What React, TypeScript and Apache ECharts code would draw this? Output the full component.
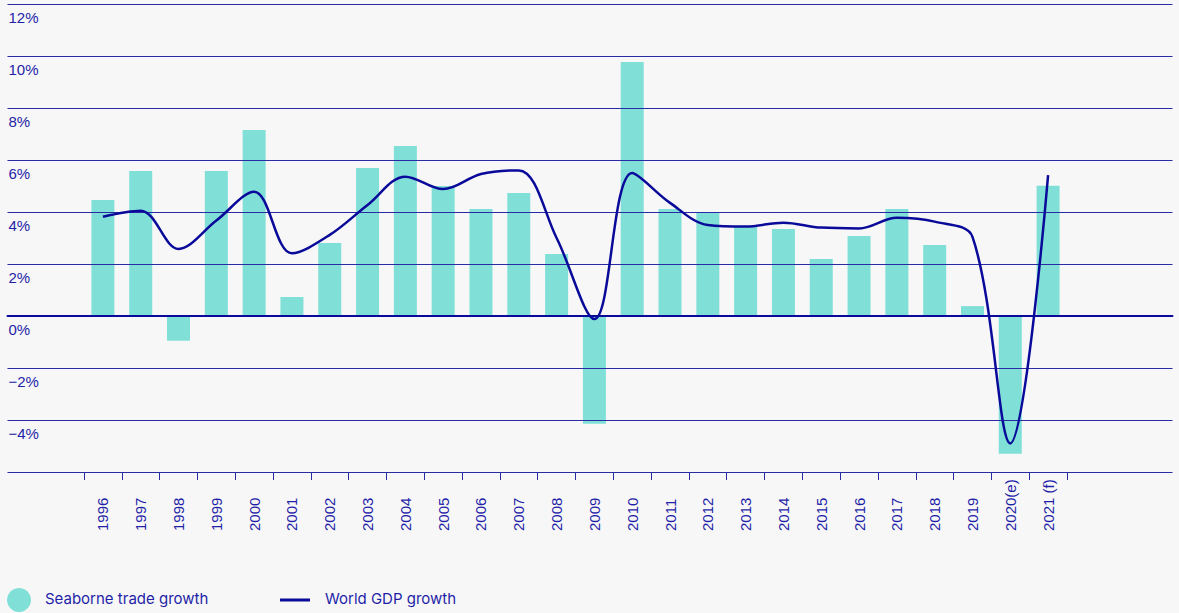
import React, { useEffect, useRef } from "react";
import * as echarts from "echarts";

const years = [
  "1996", "1997", "1998", "1999", "2000", "2001", "2002", "2003", "2004",
  "2005", "2006", "2007", "2008", "2009", "2010", "2011", "2012", "2013",
  "2014", "2015", "2016", "2017", "2018", "2019", "2020(e)", "2021 (f)",
];

const seaborneTradeGrowth = [
  4.46, 5.58, -0.95, 5.58, 7.15, 0.73, 2.81, 5.69, 6.54,
  5.0, 4.12, 4.73, 2.38, -4.14, 9.77, 4.12, 3.96, 3.44,
  3.35, 2.19, 3.08, 4.12, 2.73, 0.38, -5.3, 5.01,
];

const worldGdpGrowth = [
  3.82, 4.05, 2.58, 3.67, 4.78, 2.41, 3.12, 4.27, 5.36,
  4.88, 5.46, 5.6, 3.0, -0.12, 5.5, 4.35, 3.5, 3.44,
  3.59, 3.4, 3.37, 3.78, 3.63, 3.04, -4.9, 5.42,
];

const yTicks = [-6, -4, -2, 0, 2, 4, 6, 8, 10, 12];

const NAVY = "#0a0a9a";
const TEXT = "#1f1fa8";
const GRID = "#2a2aa4";
const BAR = "#80e0d8";
const BG = "#f7f7f7";

export default function App() {
  const ref = useRef<HTMLDivElement>(null);

  useEffect(() => {
    document.body.style.margin = "0";
    document.body.style.background = BG;
    if (!ref.current) return;
    const chart = echarts.init(ref.current, undefined, { renderer: "svg" });
    const yMin = yTicks[0];
    const yMax = yTicks[yTicks.length - 1];
    chart.setOption({
      animation: false,
      backgroundColor: BG,
      grid: [
        { left: 7.5, right: 6.5, top: 4, height: 468 },
        { left: 84, width: 983, top: 4, height: 468 },
      ],
      xAxis: [
        {
          gridIndex: 0,
          type: "value",
          min: 0,
          max: 1,
          z: 3,
          axisLine: { show: true, onZero: true, lineStyle: { color: NAVY, width: 2 } },
          axisTick: { show: false },
          axisLabel: { show: false },
          splitLine: { show: false },
        },
        {
          gridIndex: 1,
          type: "category",
          data: years,
          boundaryGap: true,
          axisLine: { show: false, onZero: false },
          axisTick: { show: true, length: 8, lineStyle: { color: GRID, width: 1 } },
          axisLabel: {
            rotate: 90,
            align: "left",
            verticalAlign: "middle",
            margin: 59,
            interval: 0,
            color: TEXT,
            fontFamily: "Liberation Sans",
            fontSize: 15,
          },
          splitLine: { show: false },
        },
      ],
      yAxis: [
        {
          gridIndex: 0,
          type: "value",
          min: yMin,
          max: yMax,
          interval: 2,
          z: 3,
          axisLine: { show: false },
          axisTick: { show: false },
          splitLine: { show: true, lineStyle: { color: GRID, width: 1.2 } },
          axisLabel: {
            inside: true,
            margin: 0,
            align: "left",
            verticalAlign: "top",
            padding: [6, 0, 0, 1],
            color: TEXT,
            fontFamily: "Liberation Sans",
            fontSize: 15,
            formatter: (v: number) =>
              v === yMin ? "" : (v < 0 ? "\u2212" + Math.abs(v) : String(v)) + "%",
          },
        },
        {
          gridIndex: 1,
          type: "value",
          min: yMin,
          max: yMax,
          show: false,
          splitLine: { show: false },
        },
      ],
      series: [
        {
          name: "Seaborne trade growth",
          type: "bar",
          xAxisIndex: 1,
          yAxisIndex: 1,
          data: seaborneTradeGrowth,
          barWidth: 23,
          itemStyle: { color: BAR },
          z: 2,
        },
        {
          name: "World GDP growth",
          type: "line",
          xAxisIndex: 1,
          yAxisIndex: 1,
          data: worldGdpGrowth,
          smooth: 0.35,
          showSymbol: false,
          symbol: "none",
          lineStyle: { color: NAVY, width: 2.5 },
          z: 5,
        },
      ],
      graphic: [
        { type: "circle", shape: { cx: 19, cy: 600, r: 12 }, style: { fill: BAR } },
        {
          type: "text",
          left: 45,
          top: 591,
          style: {
            text: "Seaborne trade growth",
            fill: TEXT,
            font: "15px Inter",
          },
        },
        {
          type: "line",
          shape: { x1: 280, y1: 600, x2: 310, y2: 600 },
          style: { stroke: NAVY, lineWidth: 3 },
        },
        {
          type: "text",
          left: 325,
          top: 591,
          style: {
            text: "World GDP growth",
            fill: TEXT,
            font: "15px Inter",
          },
        },
      ],
    });
    return () => chart.dispose();
  }, []);

  return <div ref={ref} style={{ width: 1179, height: 613 }} />;
}
